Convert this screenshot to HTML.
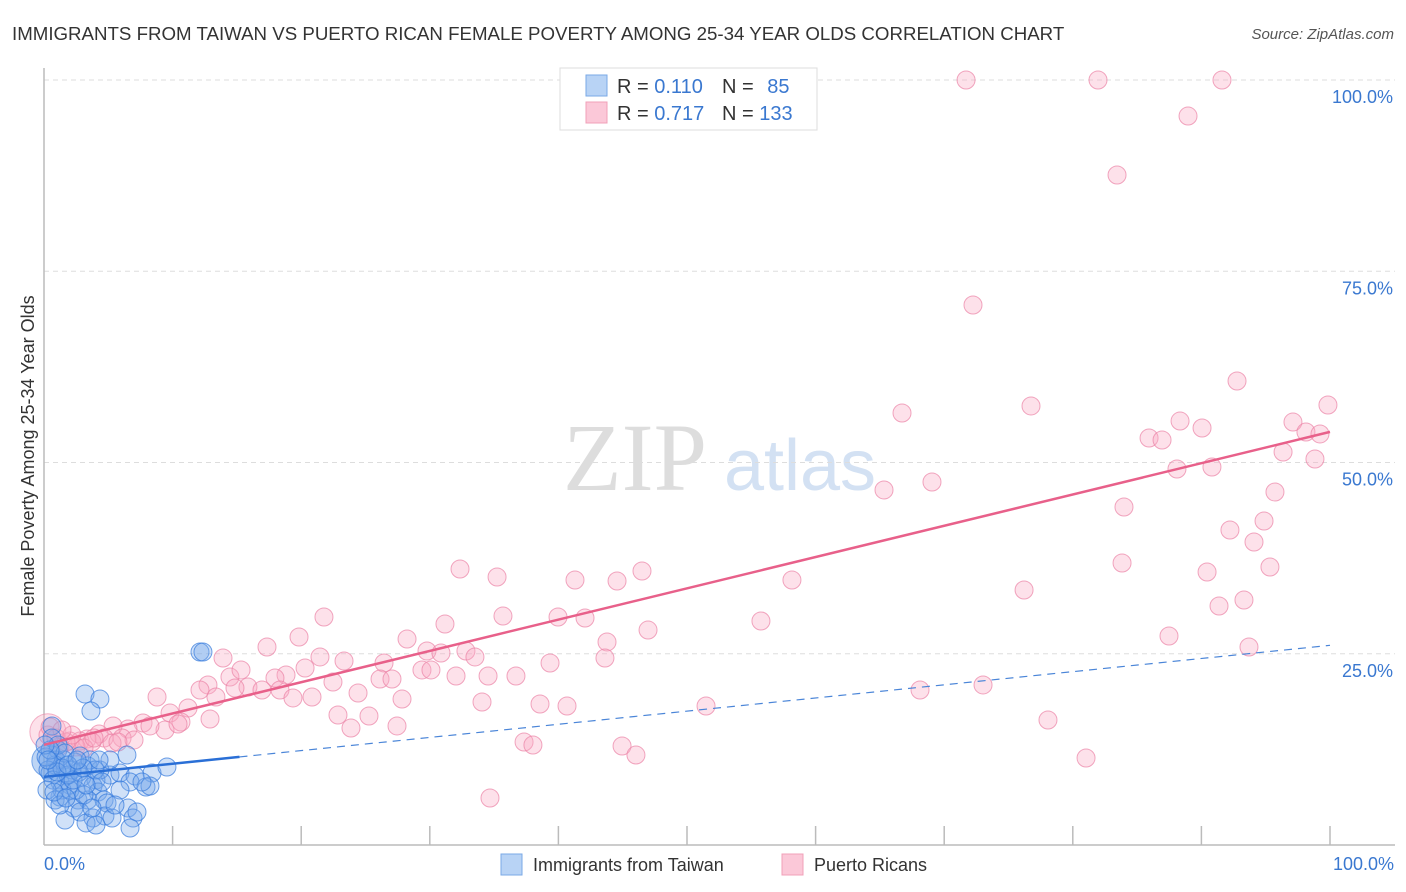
<!DOCTYPE html>
<html><head><meta charset="utf-8"><style>
body{margin:0;background:#fff;font-family:"Liberation Sans",sans-serif}
svg{display:block}
</style></head><body>
<svg id="chart" width="1406" height="892">
<text x="12" y="40" font-size="18.7" fill="#333">IMMIGRANTS FROM TAIWAN VS PUERTO RICAN FEMALE POVERTY AMONG 25-34 YEAR OLDS CORRELATION CHART</text>
<text x="1394" y="39" font-size="15" fill="#555" font-style="italic" text-anchor="end">Source: ZipAtlas.com</text>
<g>
<text x="635" y="490" font-size="96" fill="#ddd" font-family="Liberation Serif" text-anchor="middle">ZIP</text>
<text x="800" y="490" font-size="72" fill="#d3e1f3" text-anchor="middle">atlas</text>
</g>
<g id="grid"></g>
<g id="axes"></g>
<g id="pink"></g>
<g id="blue"></g>
<g id="lines"></g>
<text transform="translate(34,456) rotate(-90)" font-size="18" fill="#333" text-anchor="middle">Female Poverty Among 25-34 Year Olds</text>
<g>
<rect x="560" y="68" width="257" height="62" fill="#fff" stroke="#ddd"/>
<rect x="586" y="75" width="21" height="21" fill="#b8d3f5" stroke="#7aa8e6"/>
<rect x="586" y="102" width="21" height="21" fill="#fbc8d8" stroke="#f0a0b8"/>
<text x="617" y="93" font-size="20" fill="#333">R = <tspan fill="#3a78d0">0.110</tspan></text>
<text x="722" y="93" font-size="20" fill="#333">N = <tspan fill="#3a78d0" dx="8">85</tspan></text>
<text x="617" y="120" font-size="20" fill="#333">R = <tspan fill="#3a78d0">0.717</tspan></text>
<text x="722" y="120" font-size="20" fill="#333">N = <tspan fill="#3a78d0">133</tspan></text>
</g>
<g>
<rect x="501" y="854" width="21" height="21" fill="#b8d3f5" stroke="#7aa8e6"/>
<text x="533" y="871" font-size="18" fill="#333">Immigrants from Taiwan</text>
<rect x="782" y="854" width="21" height="21" fill="#fbc8d8" stroke="#f0a0b8"/>
<text x="814" y="871" font-size="18" fill="#333">Puerto Ricans</text>
</g>
</svg>
<script>
const yTicks=[25,50,75,100];
const yTickLabels=["25.0%","50.0%","75.0%","100.0%"];
const xTicks=[0,10,20,30,40,50,60,70,80,90,100];
const xLabels=["0.0%","100.0%"];
const blueTrend=[8.9,26.1];
const pinkTrend=[13.1,54.0];
const bluePx=[[200,652],[203,652],[85,694],[100,699],[91,711],[52,726],[52,738],[58,750],[127,755],[56,760],[75,762],[88,766],[110,775],[120,773],[135,776],[152,773],[167,767],[96,780],[82,777],[66,776],[50,773],[60,782],[70,785],[93,786],[130,782],[146,787],[150,786],[60,797],[78,800],[98,792],[88,800],[104,800],[128,808],[107,803],[74,808],[80,812],[65,820],[93,818],[105,816],[112,818],[133,818],[137,812],[70,790],[86,823],[96,825],[130,828],[64,760],[55,765],[48,770],[72,770],[100,770],[58,745],[65,753],[80,756],[53,780],[62,790],[90,760],[110,760],[46,757],[76,790],[84,795],[120,790],[142,782],[47,790],[55,800],[68,775],[79,772],[95,770],[102,782],[50,750],[62,768],[73,780],[86,785],[57,772],[68,765],[45,745],[83,768],[60,805],[115,805],[92,808],[48,760],[54,792],[66,798],[77,760],[99,760]];
const pinkPx=[[966,80],[1098,80],[1222,80],[1188,116],[1117,175],[973,305],[1237,381],[1328,405],[1031,406],[902,413],[1180,421],[1293,422],[1202,428],[1149,438],[1162,440],[1306,432],[1320,434],[1283,452],[1315,459],[1212,467],[1177,469],[932,482],[884,490],[1275,492],[1124,507],[1264,521],[1230,530],[1254,542],[1122,563],[1207,572],[1270,567],[460,569],[497,577],[575,580],[617,581],[642,571],[792,580],[1024,590],[1244,600],[1219,606],[324,617],[503,616],[558,617],[585,618],[445,624],[648,630],[761,621],[1169,636],[267,647],[407,639],[299,637],[607,642],[427,651],[466,651],[441,653],[475,657],[223,658],[320,657],[550,663],[344,661],[605,658],[384,663],[422,670],[305,668],[230,677],[286,675],[241,670],[275,678],[488,676],[516,676],[456,676],[333,682],[380,679],[392,679],[431,670],[208,685],[248,687],[200,690],[216,697],[235,688],[262,690],[280,690],[293,698],[312,697],[402,699],[358,693],[920,690],[983,685],[1249,647],[157,697],[170,713],[188,708],[181,722],[210,719],[338,715],[369,716],[540,704],[567,706],[482,702],[706,706],[351,728],[397,726],[165,730],[178,724],[143,723],[128,729],[113,726],[150,726],[99,734],[122,738],[104,738],[87,739],[70,741],[60,746],[80,741],[92,742],[112,743],[76,747],[48,735],[524,742],[533,745],[622,746],[636,755],[1048,720],[1086,758],[490,798],[50,727],[66,742],[56,738],[84,748],[134,740],[118,742],[94,738],[72,735],[62,730]];
// data values in percent (x, y)
const blueX=bluePx.map(p=>+((p[0]-44)/12.86).toFixed(2));
const blueY=bluePx.map(p=>+((845-p[1])/7.65).toFixed(2));
const pinkX=pinkPx.map(p=>+((p[0]-44)/12.86).toFixed(2));
const pinkY=pinkPx.map(p=>+((845-p[1])/7.65).toFixed(2));

const X=v=>44+v*12.86, Y=v=>845-v*7.65;
const NS="http://www.w3.org/2000/svg";
function mk(tag,parent,attrs){const e=document.createElementNS(NS,tag);for(const k in attrs)e.setAttribute(k,attrs[k]);document.getElementById(parent).appendChild(e);return e;}
yTicks.forEach((t,i)=>{
 const l=mk('line','grid',{x1:44,x2:1395,y1:Y(t),y2:Y(t),stroke:'#ddd','stroke-dasharray':'5,4'});
 
 
 const tx=mk('text','grid',{x:1393,y:Y(t)+23,'font-size':18,fill:'#3a78d0','text-anchor':'end'});
 tx.textContent=yTickLabels[i];
 
 
});
let a=mk('line','axes',{x1:44,x2:44,y1:68,y2:845,stroke:'#bbb','stroke-width':1.5});


a=mk('line','axes',{x1:44,x2:1395,y1:845,y2:845,stroke:'#bbb','stroke-width':1.5});


xTicks.forEach(t=>{if(t===0)return;const l=mk('line','axes',{x1:X(t),x2:X(t),y1:826,y2:845,stroke:'#bbb','stroke-width':1.5});
 
 });
[[0,'start',44],[100,'end',1394]].forEach((d,i)=>{const tx=mk('text','axes',{x:d[2],y:870,'font-size':18,fill:'#3a78d0','text-anchor':d[1]});tx.textContent=xLabels[i];
 
 });
let big=mk('circle','pink',{cx:X(0.3),cy:Y(14.8),r:18,fill:'rgba(248,170,195,0.35)',stroke:'rgba(235,130,165,0.6)'});


pinkX.forEach((x,i)=>{const c=mk('circle','pink',{cx:X(x),cy:Y(pinkY[i]),r:9,fill:'rgba(248,170,195,0.35)',stroke:'rgba(235,130,165,0.7)','stroke-width':1});
 
 });
big=mk('circle','blue',{cx:X(0.3),cy:Y(11),r:16,fill:'rgba(90,150,230,0.4)',stroke:'rgba(50,120,220,0.6)'});


blueX.forEach((x,i)=>{const c=mk('circle','blue',{cx:X(x),cy:Y(blueY[i]),r:9,fill:'rgba(120,170,235,0.35)',stroke:'rgba(50,120,220,0.7)','stroke-width':1});
 
 });
const by=x=>blueTrend[0]+(blueTrend[1]-blueTrend[0])*x/100;
let l=mk('line','lines',{x1:X(0),y1:Y(by(0)),x2:X(15.2),y2:Y(by(15.2)),stroke:'#2a6fd6','stroke-width':2.5});


l=mk('line','lines',{x1:X(15.2),y1:Y(by(15.2)),x2:X(100),y2:Y(by(100)),stroke:'#4a85d8','stroke-width':1.2,'stroke-dasharray':'8,6'});


l=mk('line','lines',{x1:X(0),y1:Y(pinkTrend[0]),x2:X(100),y2:Y(pinkTrend[1]),stroke:'#e8608a','stroke-width':2.5});


</script>
</body></html>
